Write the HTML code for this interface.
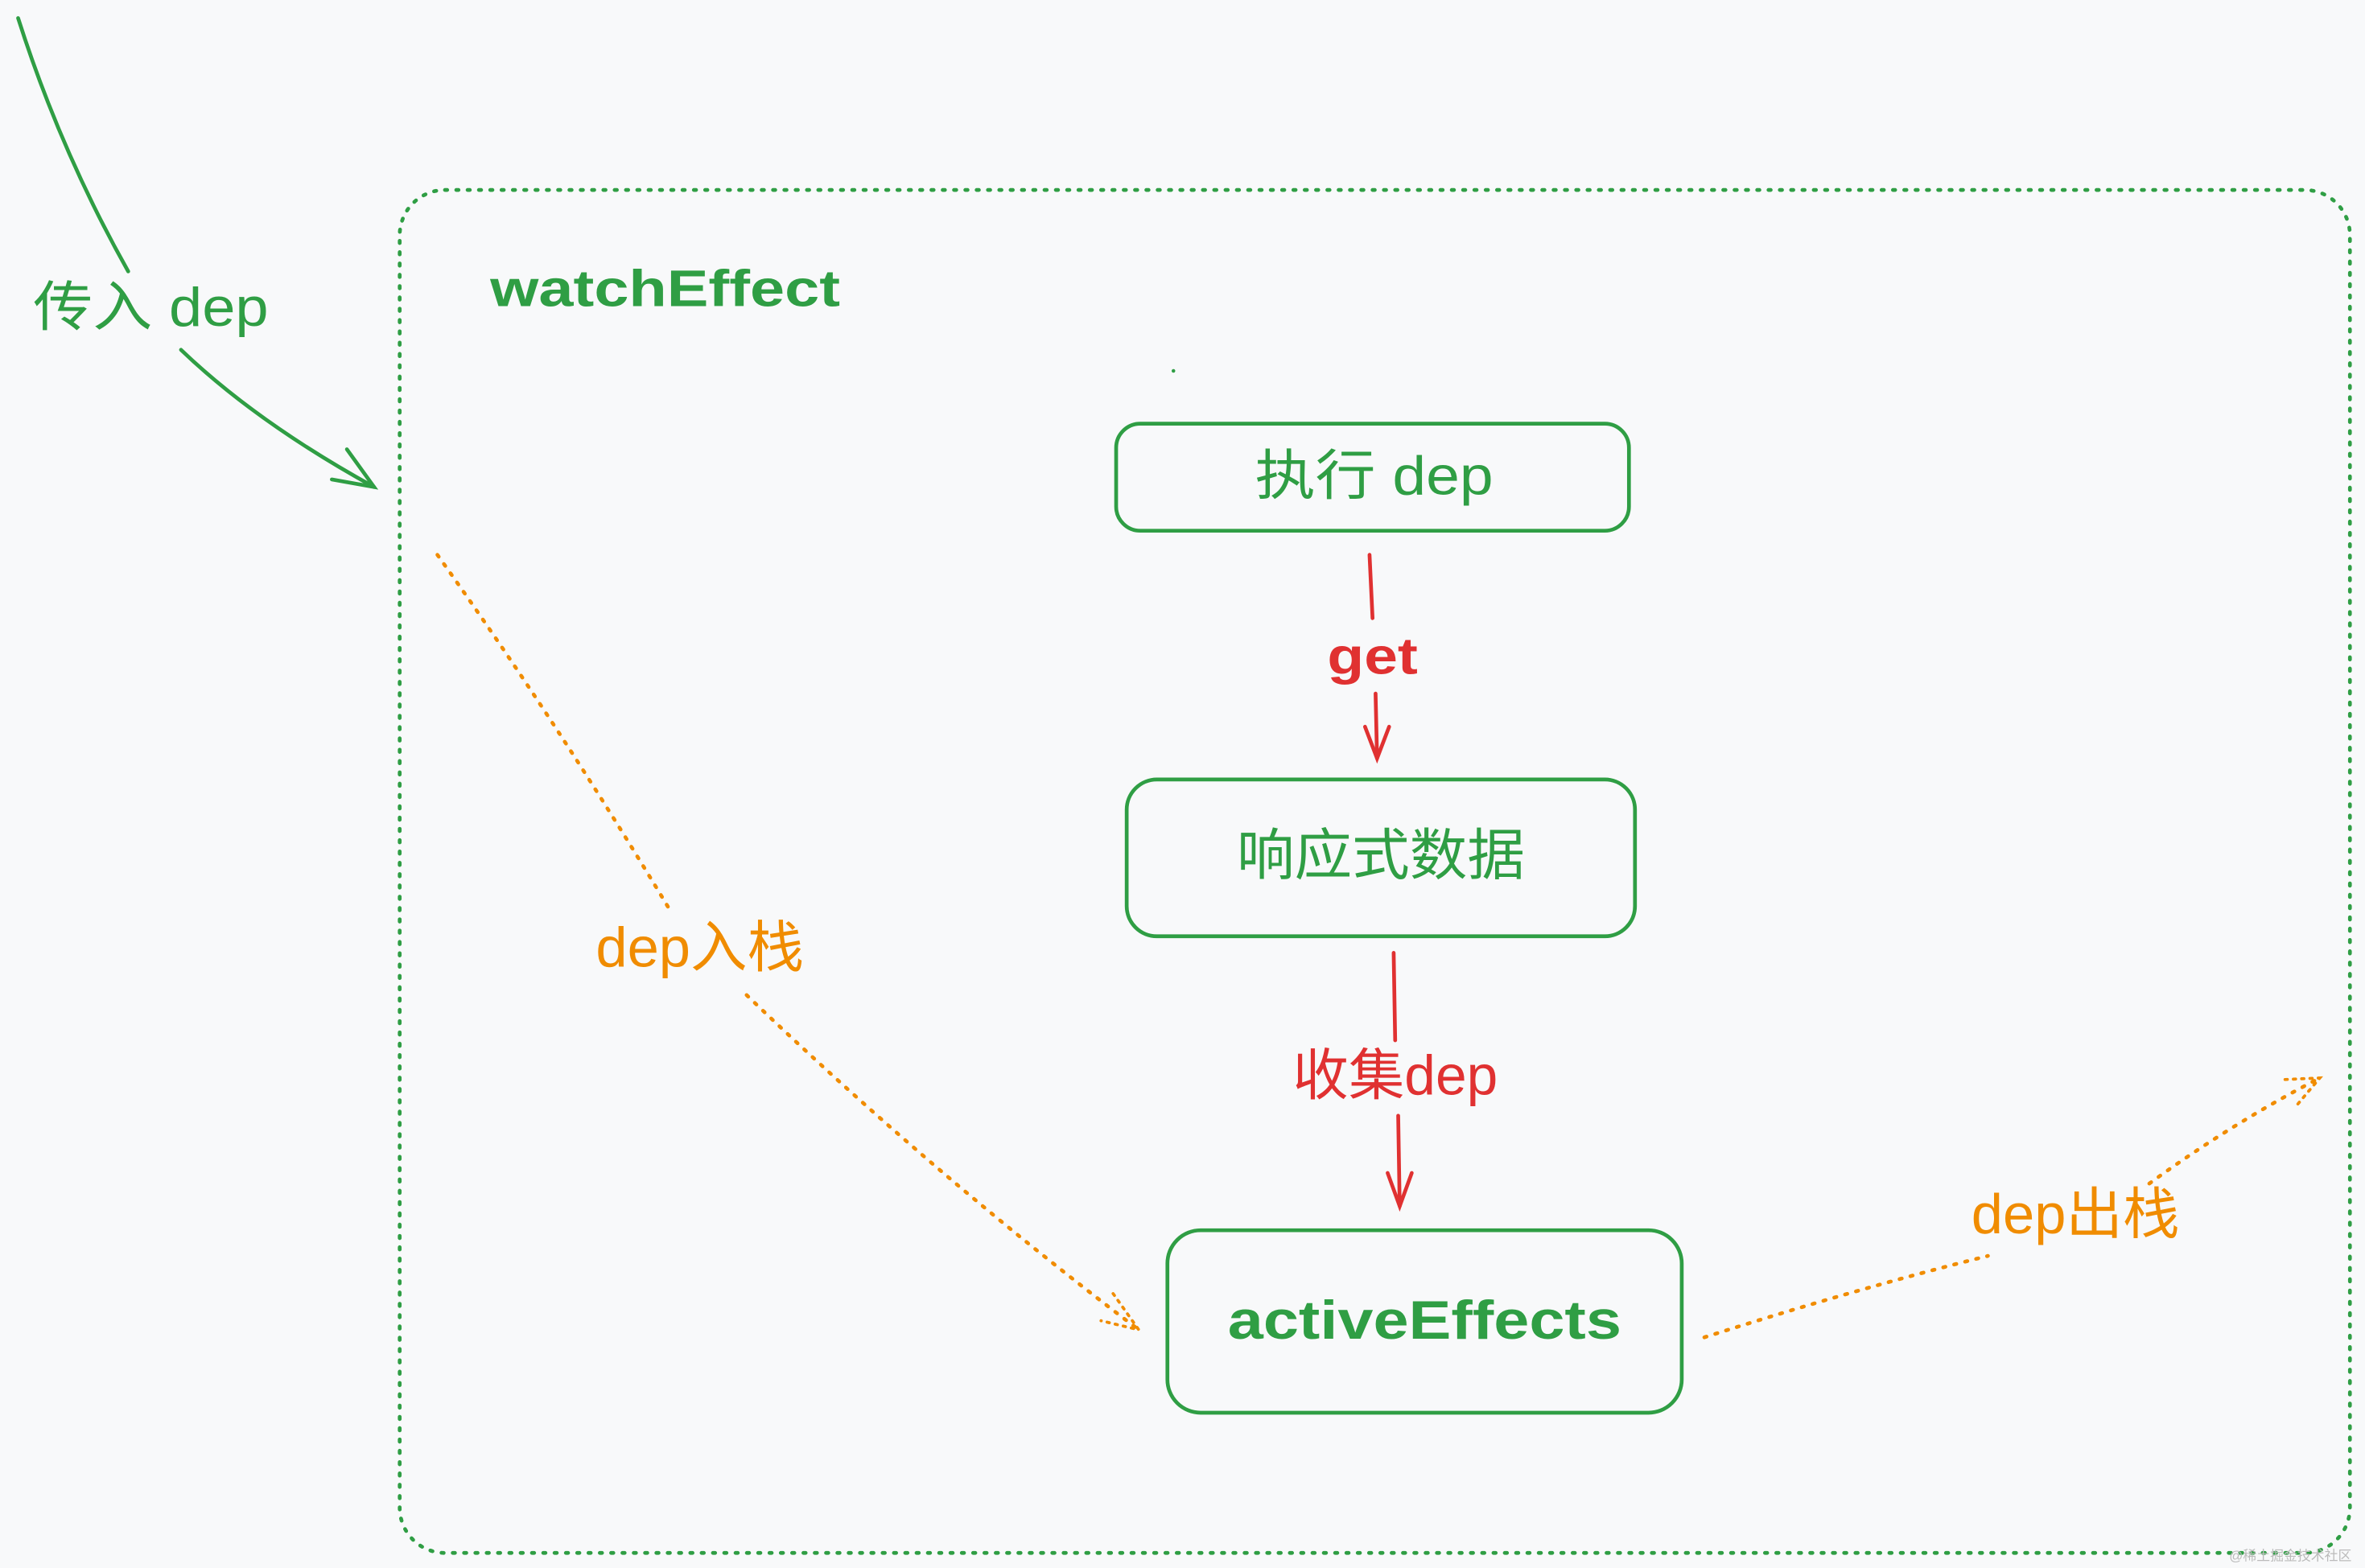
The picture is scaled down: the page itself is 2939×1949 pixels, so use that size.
<!DOCTYPE html>
<html><head><meta charset="utf-8"><style>
html,body{margin:0;padding:0;background:#f8f9fa;width:2939px;height:1949px;overflow:hidden}
svg{display:block}
text{font-family:"Liberation Sans","Noto Sans CJK SC",sans-serif}
</style></head><body>
<svg width="2939" height="1949" viewBox="0 0 1568 1040" preserveAspectRatio="none" xmlns="http://www.w3.org/2000/svg">
<rect x="0" y="0" width="1568" height="1040" fill="#f8f9fa"/>
<!-- dotted container -->
<rect x="265" y="126" width="1293" height="904" rx="30" fill="none" stroke="#2f9e44" stroke-width="2.5" stroke-dasharray="1.5 6" stroke-linecap="round"/>
<text x="325" y="203" font-size="34" fill="#2f9e44" font-weight="bold" textLength="232" lengthAdjust="spacingAndGlyphs">watchEffect</text>
<circle cx="778" cy="246" r="1.2" fill="#2f9e44"/>
<!-- boxes -->
<rect x="740" y="281" width="340" height="71" rx="16" fill="none" stroke="#2f9e44" stroke-width="2.5"/>
<text x="832" y="328" font-size="36" fill="#2f9e44" textLength="158" lengthAdjust="spacingAndGlyphs">执行 dep</text>
<rect x="747" y="517" width="337" height="104" rx="20" fill="none" stroke="#2f9e44" stroke-width="2.5"/>
<text x="820" y="580" font-size="37" fill="#2f9e44" textLength="191" lengthAdjust="spacingAndGlyphs">响应式数据</text>
<rect x="774" y="816" width="341" height="121" rx="22" fill="none" stroke="#2f9e44" stroke-width="2.5"/>
<text x="814" y="888" font-size="36" fill="#2f9e44" font-weight="bold" textLength="261" lengthAdjust="spacingAndGlyphs">activeEffects</text>
<!-- red arrows -->
<g stroke="#e03131" stroke-width="2.5" fill="none" stroke-linecap="round">
<path d="M908,368 L910,410"/><path d="M912,460 L913,503"/><path d="M905,482 L913,503 L921,482"/>
<path d="M924,632 L925,690"/><path d="M927,740 L928,800"/><path d="M920,778 L928,800 L936,778"/>
</g>
<text x="880" y="447" font-size="34" fill="#e03131" font-weight="bold" textLength="60" lengthAdjust="spacingAndGlyphs">get</text>
<text x="857" y="726" font-size="37" fill="#e03131" textLength="136" lengthAdjust="spacingAndGlyphs">收集dep</text>
<!-- green left arrow -->
<g stroke="#2f9e44" stroke-width="2.5" fill="none" stroke-linecap="round">
<path d="M12,12 Q40,100 85,180"/>
<path d="M120,232 Q170,280 248,323"/>
<path d="M230,298 L248,323 L220,318"/>
</g>
<text x="22" y="216" font-size="36" fill="#2f9e44" textLength="156" lengthAdjust="spacingAndGlyphs">传入 dep</text>
<!-- orange dotted -->
<g stroke="#f08c00" stroke-width="2.5" fill="none" stroke-linecap="round" stroke-dasharray="1.5 6">
<path d="M290,368 Q370,480 445,605"/>
<path d="M495,660 Q620,780 755,882"/>
<path d="M1130,887 Q1230,855 1318,833"/>
<path d="M1425,785 Q1480,745 1538,715"/>
</g>
<g stroke="#f08c00" stroke-width="2" fill="none" stroke-linecap="round" stroke-dasharray="1.5 4">
<path d="M738,858 L755,882 L730,876"/>
<path d="M1515,716 L1538,715 L1522,734"/>
</g>
<text x="395" y="641" font-size="37" fill="#f08c00" textLength="138" lengthAdjust="spacingAndGlyphs">dep入栈</text>
<text x="1307" y="818" font-size="37" fill="#f08c00" textLength="138" lengthAdjust="spacingAndGlyphs">dep出栈</text>
<text x="1478" y="1035" font-size="9" fill="#bbb">@稀土掘金技术社区</text>
</svg>
</body></html>
